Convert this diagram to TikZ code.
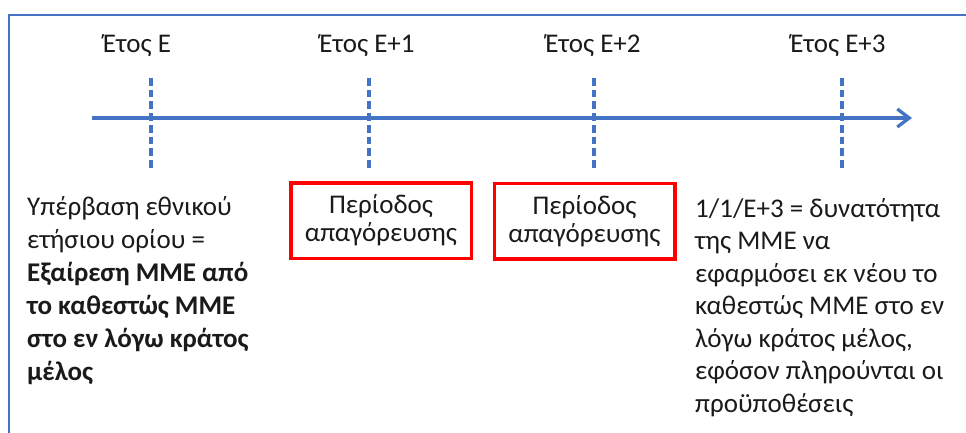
\documentclass[tikz,border=0pt]{standalone}
\usepackage{fontspec}
\setmainfont{Carlito}
\usetikzlibrary{arrows.meta}
\definecolor{axisblue}{HTML}{4472C4}
\definecolor{boxred}{HTML}{FF0000}
\definecolor{txt}{HTML}{1A1A1A}
\begin{document}
\begin{tikzpicture}[x=1pt,y=-1pt,
  year/.style={anchor=base, font=\fontsize{27}{32}\selectfont, text=txt, inner sep=0pt},
  tickline/.style={axisblue, line width=3.3pt, dash pattern=on 7.7pt off 4pt},
  axisline/.style={axisblue, line width=3.3pt, -{Straight Barb[length=12pt,width=18pt,line width=3.3pt]}},
  period/.style={draw=boxred, line width=3.5pt, minimum width=180.5pt, minimum height=75.5pt, align=center, font=\fontsize{27}{28}\selectfont, text=txt, inner sep=0pt},
  note/.style={anchor=north west, align=left, font=\fontsize{27}{32.5}\selectfont, text=txt, inner sep=0pt},
  frameline/.style={axisblue, line width=2pt}
]
\useasboundingbox (0,0) rectangle (966,432);
\coordinate (fb) at (9,440);
\coordinate (ftl) at (9,15);
\coordinate (fr) at (975,15);
\draw[frameline] (fb) -- (ftl) -- (fr);

\coordinate (axs) at (92,118);
\coordinate (axe) at (912,118);
\draw[axisline] (axs) -- (axe);

\foreach \n/\x in {0/151,1/369,2/594,3/842}{
  \coordinate (t\n a) at (\x,78);
  \coordinate (t\n b) at (\x,169);
  \draw[tickline] (t\n a) -- (t\n b);
}

\node[year] (y0) at (137,52) {Έτος Ε};
\node[year] (y1) at (367,52) {Έτος Ε+1};
\node[year] (y2) at (593,52) {Έτος Ε+2};
\node[year] (y3) at (838,52) {Έτος Ε+3};

\node[period] (p1) at (381,220.5) {Περίοδος\\απαγόρευσης};
\node[period] (p2) at (584.5,221) {Περίοδος\\απαγόρευσης};

\node[note, font=\fontsize{27}{33}\selectfont] (left) at (27,196) {Υπέρβαση εθνικού\\ετήσιου ορίου =\\\textbf{Εξαίρεση ΜΜΕ από}\\\textbf{το καθεστώς ΜΜΕ}\\\textbf{στο εν λόγω κράτος}\\\textbf{μέλος}};
\node[note] (right) at (695,198) {1/1/Ε+3 = δυνατότητα\\της ΜΜΕ να\\εφαρμόσει εκ νέου το\\καθεστώς ΜΜΕ στο εν\\λόγω κράτος μέλος,\\εφόσον πληρούνται οι\\προϋποθέσεις};
\end{tikzpicture}
\end{document}
